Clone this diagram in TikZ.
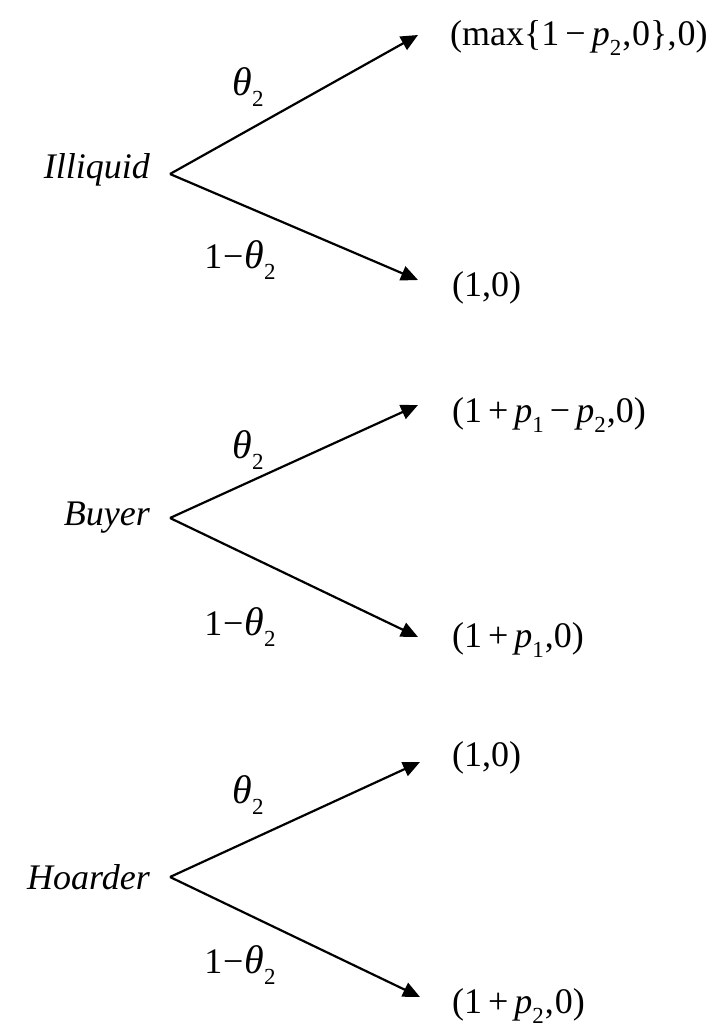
\documentclass[tikz,border=0pt]{standalone}
\usepackage{fontspec}
\setmainfont{Liberation Serif}
\usetikzlibrary{arrows.meta}
\newcommand{\sbs}[1]{\raisebox{-0.28em}{\fontsize{23}{23}\selectfont #1}}
\newcommand{\vp}{\textit{p}}
\newcommand{\vth}{{\fontsize{40}{42}\selectfont\textit{θ}}}
\newcommand{\mn}{\,−\,}
\newcommand{\pl}{\,+\,}
\begin{document}
\begin{tikzpicture}[x=1pt,y=-1pt,
  every node/.style={inner sep=0pt,font=\fontsize{36}{42}\selectfont},
  branch/.style={line width=2.2pt,-{Triangle[length=17pt,width=15pt]}},
  player/.style={anchor=east,font=\fontsize{36}{42}\selectfont\itshape},
  payoff/.style={anchor=west},
  prob/.style={anchor=center}]
\useasboundingbox (0,0) rectangle (721,1030);
% tree 1
\coordinate (v1) at (170,174);
\coordinate (u1) at (418,35);
\coordinate (d1) at (418,280);
\node[player] (n1) at (150,170) {Illiquid};
\draw[branch] (v1) -- (u1);
\draw[branch] (v1) -- (d1);
\node[prob] (pu1) at (248,87) {\vth\sbs{2}};
\node[prob] (pd1) at (240,260) {1\kern1pt−\kern1pt\vth\sbs{2}};
\node[payoff] (ou1) at (450,38) {(max\{1\mn\vp\sbs{2}\kern1pt,\kern1pt0\},\kern1pt0)};
\node[payoff] (od1) at (452,288) {(1,0)};
% tree 2
\coordinate (v2) at (170,518);
\coordinate (u2) at (418,405);
\coordinate (d2) at (418,637);
\node[player] (n2) at (150,518) {Buyer};
\draw[branch] (v2) -- (u2);
\draw[branch] (v2) -- (d2);
\node[prob] (pu2) at (248,450) {\vth\sbs{2}};
\node[prob] (pd2) at (240,627) {1\kern1pt−\kern1pt\vth\sbs{2}};
\node[payoff] (ou2) at (452,415) {(1\pl\vp\sbs{1}\mn\vp\sbs{2}\kern1pt,0)};
\node[payoff] (od2) at (452,640) {(1\pl\vp\sbs{1}\kern1pt,0)};
% tree 3
\coordinate (v3) at (170,877);
\coordinate (u3) at (420,762);
\coordinate (d3) at (420,997);
\node[player] (n3) at (150,877) {Hoarder};
\draw[branch] (v3) -- (u3);
\draw[branch] (v3) -- (d3);
\node[prob] (pu3) at (248,795) {\vth\sbs{2}};
\node[prob] (pd3) at (240,965) {1\kern1pt−\kern1pt\vth\sbs{2}};
\node[payoff] (ou3) at (452,758) {(1,0)};
\node[payoff] (od3) at (452,1006) {(1\pl\vp\sbs{2}\kern1pt,\kern1pt0)};
\end{tikzpicture}
\end{document}
